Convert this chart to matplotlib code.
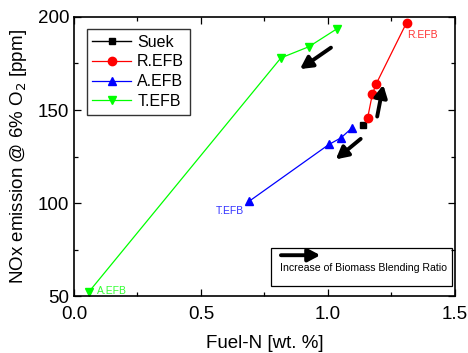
import matplotlib.pyplot as plt

plt.rcParams['font.family'] = ['Liberation Sans', 'DejaVu Sans']

# Fuel-N [wt. %] vs NOx [ppm] per blend series
suek_x = [1.14]
suek_y = [142]

refb_x = [1.156, 1.175, 1.19, 1.31]
refb_y = [145.5, 158.5, 164, 197]

aefb_x = [1.096, 1.051, 1.004, 0.69]
aefb_y = [140.5, 135, 131.5, 101]

tefb_x = [1.034, 0.925, 0.815, 0.06]
tefb_y = [193.5, 184, 178, 52.5]

fig = plt.figure(figsize=(4.68, 3.53), dpi=100)
ax = fig.add_axes([0.158, 0.161, 0.814, 0.791])

ax.plot(suek_x, suek_y, color='black', marker='s', ms=5, lw=1, label='Suek')
ax.plot(refb_x, refb_y, color='red', marker='o', ms=6, lw=0.9, label='R.EFB')
ax.plot(aefb_x, aefb_y, color='blue', marker='^', ms=6, lw=0.9, label='A.EFB')
ax.plot(tefb_x, tefb_y, color='#00ff00', marker='v', ms=6, lw=0.9, label='T.EFB')

# end-point labels
ax.text(1.31, 193, 'R.EFB', color='#ff3333', fontsize=7.5, va='top')
ax.text(0.56, 98.5, 'T.EFB', color='#3333ff', fontsize=7.5, va='top')
ax.text(0.09, 53, 'A.EFB', color='#33ff33', fontsize=7.5, va='center')

# direction arrows (increasing biomass ratio)
arrow = dict(arrowstyle='-|>,head_length=0.6,head_width=0.32', lw=2.8,
             color='black', shrinkA=0, shrinkB=0, mutation_scale=12)
ax.annotate('', xy=(0.89, 172), xytext=(1.012, 183.5), arrowprops=arrow)
ax.annotate('', xy=(1.218, 163.5), xytext=(1.194, 146.5), arrowprops=arrow)
ax.annotate('', xy=(1.031, 123.5), xytext=(1.129, 134.5), arrowprops=arrow)

# key box for the arrow meaning
ax.add_patch(plt.Rectangle((0.774, 55.5), 0.713, 20.3, fill=False, lw=0.9,
                           ec='black'))
ax.annotate('', xy=(0.97, 72), xytext=(0.815, 72), arrowprops=arrow)
ax.text(0.81, 65, 'Increase of Biomass Blending Ratio', fontsize=7.6,
        va='center', ha='left')

ax.set_xlim(0, 1.5)
ax.set_ylim(50, 200)
ax.set_xticks([0, 0.5, 1.0, 1.5])
ax.set_xticks([0.25, 0.75, 1.25], minor=True)
ax.set_yticks([50, 100, 150, 200])
ax.set_yticks([75, 125, 175], minor=True)
ax.xaxis.set_major_formatter(plt.FormatStrFormatter('%.1f'))
ax.tick_params(which='both', direction='in', top=True, right=True,
               labelsize=13.5, width=0.9)
ax.tick_params(axis='x', pad=7)
ax.tick_params(which='major', length=5)
ax.tick_params(which='minor', length=3)
for s in ax.spines.values():
    s.set_linewidth(1.2)

ax.set_xlabel('Fuel-N [wt. %]', fontsize=13.5, labelpad=9)
ax.set_ylabel('NOx emission @ 6% O$_2$ [ppm]', fontsize=13.5, labelpad=6)

ax.legend(loc='upper left', fontsize=11.5, frameon=True, fancybox=False,
          edgecolor='black', handlelength=2.4, borderpad=0.35,
          labelspacing=0.3, handletextpad=0.4, borderaxespad=0,
          bbox_to_anchor=(0.034, 0.957))

fig.savefig('out.png', dpi=100)
